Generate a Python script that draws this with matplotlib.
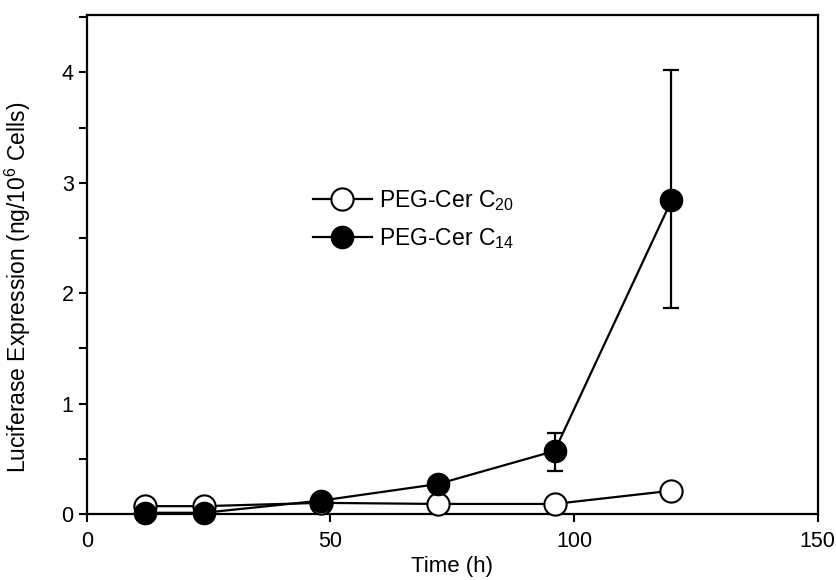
import matplotlib
matplotlib.use("Agg")
import matplotlib.pyplot as plt
from matplotlib.ticker import MultipleLocator

plt.rcParams["font.family"] = ["Liberation Sans", "DejaVu Sans"]
plt.rcParams["mathtext.default"] = "regular"

# data
time_h = [12, 24, 48, 72, 96, 120]
c20_vals = [0.07, 0.07, 0.10, 0.09, 0.09, 0.21]
c14_vals = [0.01, 0.01, 0.12, 0.27, 0.57, 2.84]
c14_err_low = [0, 0, 0, 0, 0.18, 0.97]
c14_err_high = [0, 0, 0, 0, 0.16, 1.18]

fig = plt.figure(figsize=(8.36, 5.8), dpi=100)
ax = fig.add_axes([0.104, 0.114, 0.874, 0.86])

l20, = ax.plot(time_h, c20_vals, color="black", lw=1.6, marker="o", ms=16,
               mfc="white", mec="black", mew=1.5, clip_on=False, zorder=3)
ax.errorbar(time_h, c14_vals, yerr=[c14_err_low, c14_err_high], fmt="none",
            ecolor="black", elinewidth=1.6, capsize=6, capthick=1.6,
            clip_on=False, zorder=4)
l14, = ax.plot(time_h, c14_vals, color="black", lw=1.6, marker="o", ms=16,
               mfc="black", mec="black", clip_on=False, zorder=5)

ax.set_xlim(0, 150)
ax.set_ylim(0, 4.52)
ax.xaxis.set_major_locator(MultipleLocator(50))
ax.yaxis.set_major_locator(MultipleLocator(1))
ax.yaxis.set_minor_locator(MultipleLocator(0.5))
ax.tick_params(which="both", direction="out", width=1.5, length=6,
               labelsize=15.5)
ax.tick_params(axis="x", pad=6)
for s in ax.spines.values():
    s.set_linewidth(1.6)

ax.set_xlabel("Time (h)", fontsize=16)
ax.xaxis.set_label_coords(0.5, -0.084)
ax.set_ylabel("Luciferase Expression (ng/10$^6$ Cells)", fontsize=16.5)
ax.yaxis.set_label_coords(-0.074, 0.455)

ax.legend([l20, l14], ["PEG-Cer C$_{20}$", "PEG-Cer C$_{14}$"],
          loc="upper left", bbox_to_anchor=(0.374, 0.675),
          bbox_transform=fig.transFigure, frameon=False, fontsize=16.5,
          handlelength=2.6, handletextpad=0.3, labelspacing=0.55,
          borderpad=0, borderaxespad=0)

fig.savefig("out.png", dpi=100)
